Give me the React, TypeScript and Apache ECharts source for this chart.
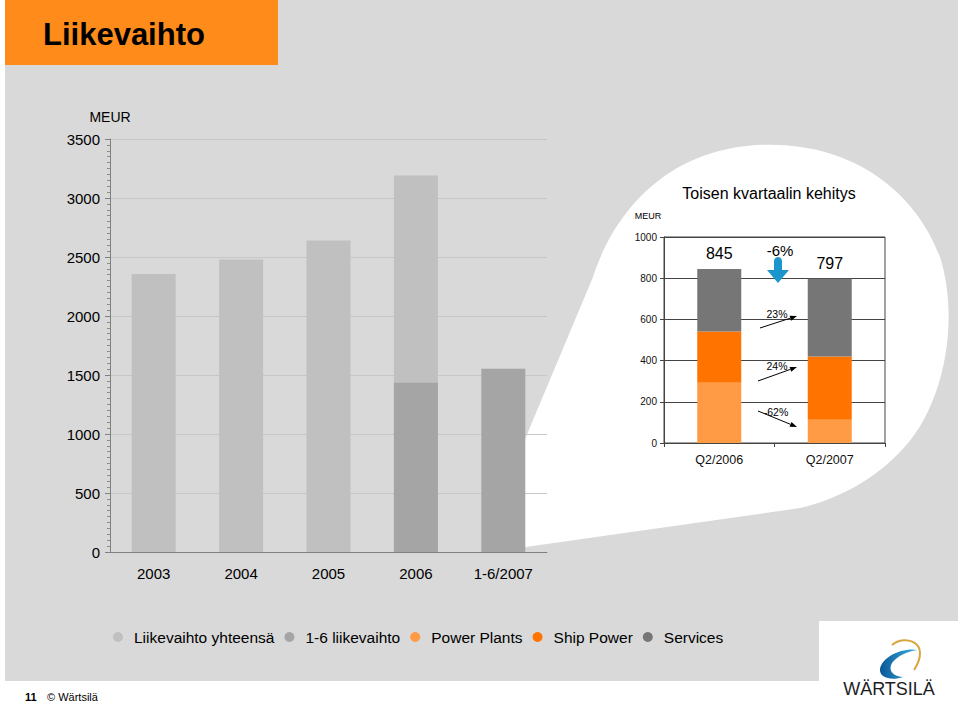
import React, { useEffect, useRef } from "react";
import * as echarts from "echarts";

// ---------- data ----------
const mainCategories = ["2003", "2004", "2005", "2006", "1-6/2007"];
const annualSales: (number | null)[] = [2355, 2478, 2639, 3190, null];
const halfYearSales: (number | null)[] = [null, null, null, 1434, 1553];

const quarterCategories = ["Q2/2006", "Q2/2007"];
const powerPlants = [293, 113];
const shipPower = [248, 307];
const services = [304, 377];
const segmentChanges = ["23%", "24%", "-62%"];
const totalChange = "-6%";

const legendNames = ["Liikevaihto yhteensä", "1-6 liikevaihto", "Power Plants", "Ship Power", "Services"];

const FONT = "Liberation Sans, Arial, Helvetica, sans-serif";

const totals = powerPlants.map((v, i) => v + shipPower[i] + services[i]);

// ---------- shapes ----------
const calloutPath =
  "M 757 145 C 850 140 915 190 940 257 C 960 320 945 410 897 455 C 870 482 835 500 800 508 L 505 550 L 505 487 L 593 277 C 606 236 648 152 757 145 Z";
const swooshPath =
  "M 918 650 C 902 647 882 657 880 669 C 879 678 892 681 903 677 C 892 676 888 670 892 663 C 897 656 908 651 918 650 Z";

let registered = false;
function registerShapes() {
  if (registered) return;
  registered = true;
  echarts.graphic.registerShape("callout", echarts.graphic.extendPath(calloutPath, {}) as any);
  echarts.graphic.registerShape("swoosh", echarts.graphic.extendPath(swooshPath, {}) as any);
}

function arrowEls(x1: number, y1: number, x2: number, y2: number) {
  const ang = Math.atan2(y2 - y1, x2 - x1);
  const L = 7;
  const W = 2.6;
  const bx = x2 - L * Math.cos(ang);
  const by = y2 - L * Math.sin(ang);
  const px = -Math.sin(ang) * W;
  const py = Math.cos(ang) * W;
  return [
    { type: "line", z: 10, shape: { x1, y1, x2: bx, y2: by }, style: { stroke: "#000", lineWidth: 1 } },
    {
      type: "polygon",
      z: 10,
      shape: { points: [[x2, y2], [bx + px, by + py], [bx - px, by - py]] },
      style: { fill: "#000" },
    },
  ];
}

const plain = (v: number) => String(v);

function buildOption(): any {
  const txt = (text: string, x: number, y: number, size: number, extra: any = {}) => ({
    type: "text",
    z: 10,
    x,
    y,
    style: {
      text,
      fontSize: size,
      fontFamily: FONT,
      fill: "#000",
      align: "center",
      verticalAlign: "middle",
      ...extra,
    },
  });

  const graphic: any[] = [
    { type: "rect", z: -30, shape: { x: 5, y: 0, width: 953, height: 681 }, style: { fill: "#d9d9d9" } },
    { type: "rect", z: -29, shape: { x: 819, y: 621, width: 140, height: 84 }, style: { fill: "#ffffff" } },
    { type: "rect", z: -28, shape: { x: 5, y: 0, width: 273, height: 65 }, style: { fill: "#ff8c1a" } },
    { type: "callout", z: -25, x: 0, y: 0, style: { fill: "#ffffff" } },
    txt("Liikevaihto", 43, 34, 31, { align: "left", fontWeight: "bold" }),
    txt("Toisen kvartaalin kehitys", 769, 193, 16),
    txt("MEUR", 648, 216, 9),
    txt(totalChange, 780, 250, 15),
    {
      type: "polygon",
      z: 10,
      shape: { points: [[774, 261], [782, 261], [782, 270], [789, 270], [778, 283], [767, 270], [774, 270]] },
      style: { fill: "#1b96cc" },
    },
    { type: "circle", z: 10, shape: { cx: 778, cy: 261, r: 4 }, style: { fill: "#1b96cc" } },
    txt(segmentChanges[0], 777, 314, 10.5),
    txt(segmentChanges[1], 777, 366, 10.5),
    txt(segmentChanges[2], 776, 412, 10.5),
    ...arrowEls(760, 328, 797, 316),
    ...arrowEls(758, 381, 797, 367),
    ...arrowEls(758, 411, 797, 427),
    txt("11", 25, 697, 11, { align: "left", fontWeight: "bold" }),
    txt("© Wärtsilä", 47, 697, 11, { align: "left" }),
    {
      type: "swoosh",
      z: 10,
      x: 0,
      y: 0,
      style: {
        fill: new echarts.graphic.LinearGradient(0, 0, 1, 0, [
          { offset: 0, color: "#0a5796" },
          { offset: 1, color: "#3cb4e6" },
        ]),
      },
    },
    {
      type: "bezierCurve",
      z: 10,
      shape: { x1: 892, y1: 645, cpx1: 905, cpy1: 634, cpx2: 932, cpy2: 642, x2: 914, y2: 670 },
      style: { stroke: "#d8a640", lineWidth: 2, fill: null },
    },
    txt("WÄRTSILÄ", 889, 689, 18, { fill: "#1e1e1e" }),
  ];

  return {
    animation: false,
    backgroundColor: "transparent",
    textStyle: { fontFamily: FONT },
    graphic,
    legend: {
      left: 113,
      top: 629,
      padding: 0,
      itemWidth: 10,
      itemHeight: 10,
      itemGap: 10,
      icon: "circle",
      selectedMode: false,
      data: legendNames,
      textStyle: { fontSize: 15.5, color: "#000", fontFamily: FONT, padding: [0, 0, 0, 6] },
    },
    grid: [
      { left: 110, top: 139, width: 437, height: 413 },
      {
        left: 664,
        top: 237,
        width: 221,
        height: 206,
        show: true,
        borderColor: "#444",
        borderWidth: 1,
        backgroundColor: "transparent",
      },
    ],
    xAxis: [
      {
        type: "category",
        gridIndex: 0,
        data: mainCategories,
        axisLine: { lineStyle: { color: "#808080", width: 1 } },
        axisTick: { show: false },
        axisLabel: { fontSize: 15, color: "#000", margin: 14, fontFamily: FONT },
      },
      {
        type: "category",
        gridIndex: 1,
        data: quarterCategories,
        axisLine: { lineStyle: { color: "#444", width: 1 } },
        axisTick: { show: true, length: 4, lineStyle: { color: "#444" } },
        axisLabel: { fontSize: 12.5, color: "#111", margin: 10, fontFamily: FONT },
      },
    ],
    yAxis: [
      {
        type: "value",
        gridIndex: 0,
        min: 0,
        max: 3500,
        interval: 500,
        name: "MEUR",
        nameLocation: "end",
        nameGap: 15,
        nameTextStyle: { fontSize: 14, color: "#000", fontFamily: FONT },
        axisLine: { show: true, lineStyle: { color: "#808080" } },
        axisTick: { show: true, length: 5, lineStyle: { color: "#808080" } },
        minorTick: { show: true, splitNumber: 10, length: 3, lineStyle: { color: "#8c8c8c" } },
        splitLine: { show: true, lineStyle: { color: "#c6c6c6", width: 1 } },
        axisLabel: { fontSize: 15, color: "#000", margin: 10, fontFamily: FONT, formatter: plain },
      },
      {
        type: "value",
        gridIndex: 1,
        min: 0,
        max: 1000,
        interval: 200,
        axisLine: { show: true, lineStyle: { color: "#444" } },
        axisTick: { show: true, length: 4, lineStyle: { color: "#444" } },
        splitLine: { show: true, lineStyle: { color: "#444", width: 1 } },
        axisLabel: { fontSize: 10, color: "#111", margin: 7, fontFamily: FONT, formatter: plain },
      },
    ],
    series: [
      {
        name: legendNames[0],
        type: "bar",
        xAxisIndex: 0,
        yAxisIndex: 0,
        data: annualSales.map((v) => (v == null ? "-" : v)),
        barWidth: 44,
        barGap: "-100%",
        itemStyle: { color: "#c0c0c0" },
        z: 2,
      },
      {
        name: legendNames[1],
        type: "bar",
        xAxisIndex: 0,
        yAxisIndex: 0,
        data: halfYearSales.map((v) => (v == null ? "-" : v)),
        barWidth: 44,
        barGap: "-100%",
        itemStyle: { color: "#a5a5a5" },
        z: 3,
      },
      {
        name: legendNames[2],
        type: "bar",
        xAxisIndex: 1,
        yAxisIndex: 1,
        stack: "q",
        barWidth: 44,
        data: powerPlants,
        itemStyle: { color: "#ff9a45" },
      },
      {
        name: legendNames[3],
        type: "bar",
        xAxisIndex: 1,
        yAxisIndex: 1,
        stack: "q",
        barWidth: 44,
        data: shipPower,
        itemStyle: { color: "#ff7300" },
      },
      {
        name: legendNames[4],
        type: "bar",
        xAxisIndex: 1,
        yAxisIndex: 1,
        stack: "q",
        barWidth: 44,
        data: services,
        itemStyle: { color: "#767676" },
        label: {
          show: true,
          position: "top",
          distance: 7,
          fontSize: 16,
          color: "#000",
          fontFamily: FONT,
          formatter: (p: any) => String(totals[p.dataIndex]),
        },
      },
    ],
  };
}

export default function App() {
  const ref = useRef<HTMLDivElement>(null);
  useEffect(() => {
    registerShapes();
    const chart = echarts.init(ref.current!, null, { renderer: "svg" });
    chart.setOption(buildOption());
    return () => chart.dispose();
  }, []);
  return (
    <div
      ref={ref}
      style={{ position: "fixed", left: 0, top: 0, width: 959, height: 705, background: "#ffffff" }}
    />
  );
}
